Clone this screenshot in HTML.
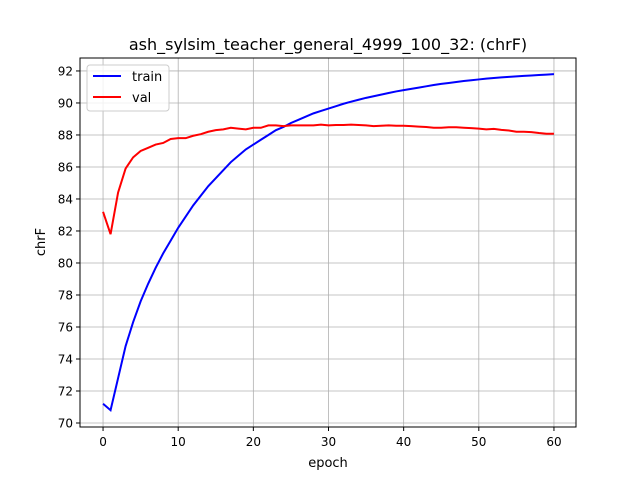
<!DOCTYPE html>
<html><head><meta charset="utf-8"><style>
body{margin:0;background:#fff;font-family:"Liberation Sans","DejaVu Sans",sans-serif}
svg{display:block}
</style></head><body>
<svg id="chart" width="640" height="480" xmlns="http://www.w3.org/2000/svg" font-family="DejaVu Sans, Liberation Sans, sans-serif">
<rect width="640" height="480" fill="#fff"/>
<g id="grid"></g>
<g id="series"></g>
<rect x="80" y="58" width="496" height="369" fill="none" stroke="#000" stroke-width="1"/>
<g id="ticks"></g>
<text x="328" y="50" text-anchor="middle" font-size="16">ash_sylsim_teacher_general_4999_100_32: (chrF)</text>
<text x="328" y="467" text-anchor="middle" font-size="13">epoch</text>
<text transform="translate(45,242) rotate(-90)" text-anchor="middle" font-size="13">chrF</text>
<g>
<rect x="87" y="65" width="82" height="46" rx="3" fill="#fff" fill-opacity="0.8" stroke="#ccc"/>
<line x1="93" y1="76" x2="121" y2="76" stroke="#0000ff" stroke-width="2"/>
<text x="132" y="81" font-size="13">train</text>
<line x1="93" y1="97" x2="121" y2="97" stroke="#ff0000" stroke-width="2"/>
<text x="132" y="102" font-size="13">val</text>
</g>
</svg>
<script>
const trainValues=[71.2,70.8,72.8,74.8,76.3,77.6,78.7,79.7,80.6,81.4,82.2,82.9,83.6,84.2,84.8,85.3,85.8,86.3,86.7,87.1,87.4,87.7,88.0,88.3,88.5,88.75,88.95,89.15,89.35,89.5,89.65,89.8,89.95,90.08,90.2,90.32,90.42,90.52,90.62,90.72,90.8,90.88,90.96,91.04,91.12,91.19,91.25,91.31,91.37,91.42,91.47,91.52,91.56,91.6,91.63,91.66,91.69,91.72,91.75,91.77,91.8];
const valValues=[83.2,81.8,84.4,85.9,86.6,87.0,87.2,87.4,87.5,87.75,87.8,87.8,87.95,88.05,88.2,88.3,88.35,88.45,88.4,88.35,88.45,88.45,88.6,88.6,88.55,88.6,88.6,88.6,88.6,88.65,88.6,88.62,88.62,88.65,88.62,88.6,88.55,88.58,88.6,88.58,88.58,88.55,88.52,88.5,88.45,88.45,88.48,88.48,88.45,88.43,88.4,88.35,88.38,88.32,88.28,88.2,88.2,88.18,88.12,88.08,88.08];
const xTicks=[0,10,20,30,40,50,60];
const yTicks=[70,72,74,76,78,80,82,84,86,88,90,92];
const NS="http://www.w3.org/2000/svg";
function xs(v){return 80.5+(v+3)*496/66;}
function ys(v){return 58+(92.81-v)*369/(92.81-69.75);}
function mk(tag,attrs,parent){const e=document.createElementNS(NS,tag);for(const k in attrs)e.setAttribute(k,attrs[k]);document.getElementById(parent).appendChild(e);return e;}
xTicks.forEach(t=>{const x=xs(t);
 let g=mk('line',{x1:x,x2:x,y1:58,y2:427,stroke:'#b0b0b0','stroke-width':0.8},'grid');
 
 
 let tk=mk('line',{x1:x,x2:x,y1:427,y2:431,stroke:'#000'},'ticks');
 
 
 let l=mk('text',{x:x,y:446,'text-anchor':'middle','font-size':12},'ticks');l.textContent=t;
 
 
});
yTicks.forEach(t=>{const y=ys(t);
 let g=mk('line',{x1:80,x2:576,y1:y,y2:y,stroke:'#b0b0b0','stroke-width':0.8},'grid');
 
 
 let tk=mk('line',{x1:76,x2:80,y1:y,y2:y,stroke:'#000'},'ticks');
 
 
 let l=mk('text',{x:73,y:y+4.5,'text-anchor':'end','font-size':12},'ticks');l.textContent=t;
 
 
});
function pts(arr){return arr.map((v,i)=>xs(i).toFixed(2)+','+ys(v).toFixed(2)).join(' ');}
let tl=mk('polyline',{points:pts(trainValues),fill:'none',stroke:'#0000ff','stroke-width':2},'series');


let vl=mk('polyline',{points:pts(valValues),fill:'none',stroke:'#ff0000','stroke-width':2},'series');


</script>
</body></html>
